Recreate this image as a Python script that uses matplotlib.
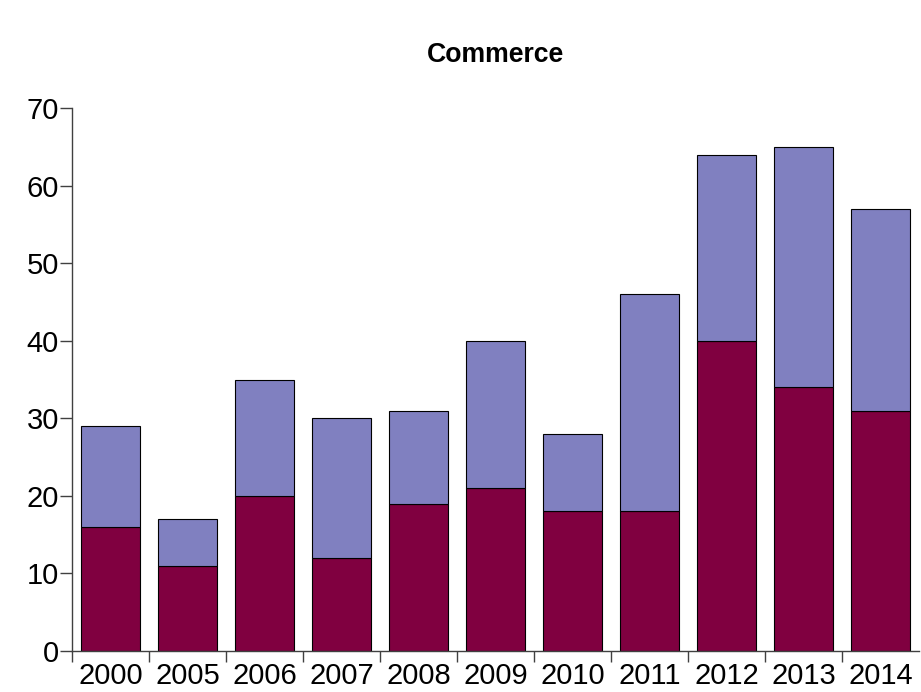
import numpy as np
import matplotlib.pyplot as plt

years = ['2000', '2005', '2006', '2007', '2008', '2009', '2010', '2011', '2012', '2013', '2014']
bottom_vals = [16, 11, 20, 12, 19, 21, 18, 18, 40, 34, 31]
totals = [29, 17, 35, 30, 31, 40, 28, 46, 64, 65, 57]
top_vals = [t - b for t, b in zip(totals, bottom_vals)]

plt.rcParams['font.family'] = ['Liberation Sans', 'DejaVu Sans']

fig = plt.figure(figsize=(9.21, 6.92), dpi=100)
ax = fig.add_axes([72 / 921, 1 - 651 / 692, 847 / 921, (651 - 108) / 692])

x = np.arange(len(years))
ax.bar(x, bottom_vals, width=0.77, color='#800040', edgecolor='black', linewidth=0.8)
ax.bar(x, top_vals, bottom=bottom_vals, width=0.77, color='#8080c0',
       edgecolor='black', linewidth=0.8)

ax.set_xlim(-0.5, len(years) - 0.5)
ax.set_ylim(0, 70)
ax.set_yticks(range(0, 71, 10))
ax.set_xticks(x)
ax.set_xticklabels(years)
ax.set_xticks(np.arange(-0.5, len(years) - 0.5, 1), minor=True)

for side in ('top', 'right'):
    ax.spines[side].set_visible(False)
for side in ('left', 'bottom'):
    ax.spines[side].set_color('#404040')
    ax.spines[side].set_linewidth(1.0)

ax.tick_params(axis='y', direction='out', length=9, width=1.0, color='#404040',
               labelsize=21, pad=0.5)
ax.tick_params(axis='x', which='major', length=0, labelsize=21, pad=8)
ax.tick_params(axis='x', which='minor', direction='out', length=8, width=1.0, color='#404040')

ax.set_title('Commerce', fontsize=19.2, fontweight='bold', pad=33)

fig.savefig('out.png', dpi=100)
